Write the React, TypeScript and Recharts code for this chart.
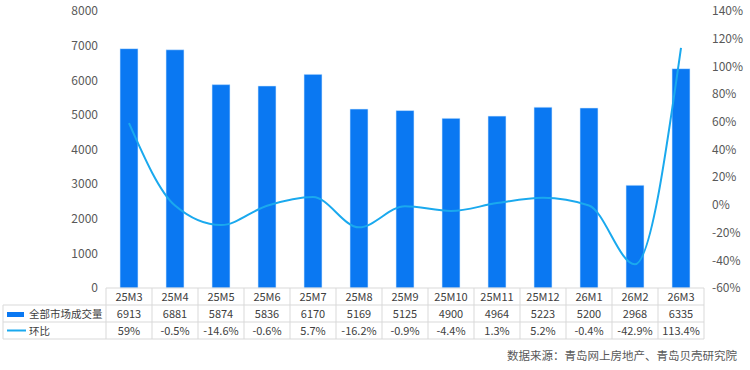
import React from "react";
import { ComposedChart, Bar, Line, XAxis, YAxis } from "recharts";

const months = ["25M3", "25M4", "25M5", "25M6", "25M7", "25M8", "25M9", "25M10", "25M11", "25M12", "26M1", "26M2", "26M3"];
const volume = [6913, 6881, 5874, 5836, 6170, 5169, 5125, 4900, 4964, 5223, 5200, 2968, 6335];
const mom = [59, -0.5, -14.6, -0.6, 5.7, -16.2, -0.9, -4.4, 1.3, 5.2, -0.4, -42.9, 113.4];
const momLabels = ["59%", "-0.5%", "-14.6%", "-0.6%", "5.7%", "-16.2%", "-0.9%", "-4.4%", "1.3%", "5.2%", "-0.4%", "-42.9%", "113.4%"];

const leftTicks = [0, 1000, 2000, 3000, 4000, 5000, 6000, 7000, 8000];
const rightTicks = [-60, -40, -20, 0, 20, 40, 60, 80, 100, 120, 140];

const data = months.map((m, i) => ({ month: m, volume: volume[i], mom: mom[i], momLabel: momLabels[i] }));

const BAR = "#0a78f2";
const LINE = "#1aa9ee";
const GRID = "#d9d9d9";
const FONT = "'Noto Sans CJK SC', 'Noto Sans', sans-serif";
const COL = 46;
const ROW = 17;

// x-axis tick doubles as the data table column for each month
const TableTick = (props: any) => {
  const { x, y, payload, index } = props;
  const d = data[index];
  const l = x - COL / 2;
  const r = x + COL / 2;
  return (
    <g fontFamily={FONT} fontSize={11} fill="#404040">
      {[0, 1, 2, 3].map((k) => (
        <line key={k} x1={l} x2={r} y1={y + k * ROW} y2={y + k * ROW} stroke={GRID} />
      ))}
      <line x1={r} x2={r} y1={y} y2={y + 3 * ROW} stroke={GRID} />
      {index === 0 && (
        <g fontSize={10.5}>
          <line x1={l} x2={l} y1={y} y2={y + 3 * ROW} stroke={GRID} />
          {[1, 2, 3].map((k) => (
            <line key={k} x1={3} x2={l} y1={y + k * ROW} y2={y + k * ROW} stroke={GRID} />
          ))}
          <line x1={3} x2={3} y1={y + ROW} y2={y + 3 * ROW} stroke={GRID} />
          <rect x={7} y={y + ROW + 7} width={17} height={5} fill={BAR} />
          <text x={29} y={y + ROW * 1.5 + 4}>全部市场成交量</text>
          <line x1={7} x2={26} y1={y + ROW * 2.5} y2={y + ROW * 2.5} stroke={LINE} strokeWidth={2} />
          <text x={29} y={y + ROW * 2.5 + 4}>环比</text>
        </g>
      )}
      <text x={x} y={y + ROW * 0.5 + 4} textAnchor="middle">{payload.value}</text>
      <text x={x} y={y + ROW * 1.5 + 4} textAnchor="middle">{d.volume}</text>
      <text x={x} y={y + ROW * 2.5 + 4} textAnchor="middle">{d.momLabel}</text>
    </g>
  );
};

export default function App() {
  return (
    <div style={{ position: "relative", width: 750, height: 370, background: "#fff", fontFamily: FONT }}>
      <style>{"body{margin:0}"}</style>
      <ComposedChart width={750} height={370} data={data} margin={{ top: 11, right: 0, left: 0, bottom: 0 }}>
        <XAxis
          dataKey="month"
          xAxisId="x"
          height={82}
          tickLine={false}
          axisLine={false}
          tickSize={0}
          tickMargin={0}
          interval={0}
          tick={<TableTick />}
        />
        <YAxis
          yAxisId="left"
          width={106}
          domain={[0, 8000]}
          ticks={leftTicks}
          axisLine={false}
          tickLine={false}
          tick={{ fill: "#595959", fontSize: 12, fontFamily: FONT }}
        />
        <YAxis
          yAxisId="right"
          orientation="right"
          width={46}
          domain={[-60, 140]}
          ticks={rightTicks}
          axisLine={false}
          tickLine={false}
          tickFormatter={(v: number) => `${v}%`}
          tick={{ fill: "#595959", fontSize: 12, fontFamily: FONT }}
        />
        <Bar xAxisId="x" yAxisId="left" dataKey="volume" fill={BAR} stroke="#d6ecff" strokeWidth={0.6} barSize={18} isAnimationActive={false} />
        <Line xAxisId="x" yAxisId="right" dataKey="mom" type="monotone" stroke={LINE} strokeWidth={2} dot={false} isAnimationActive={false} />
      </ComposedChart>
      <div style={{ position: "absolute", right: 13, top: 347, fontSize: 11.5, color: "#595959", whiteSpace: "nowrap" }}>
        数据来源：青岛网上房地产、青岛贝壳研究院
      </div>
    </div>
  );
}
